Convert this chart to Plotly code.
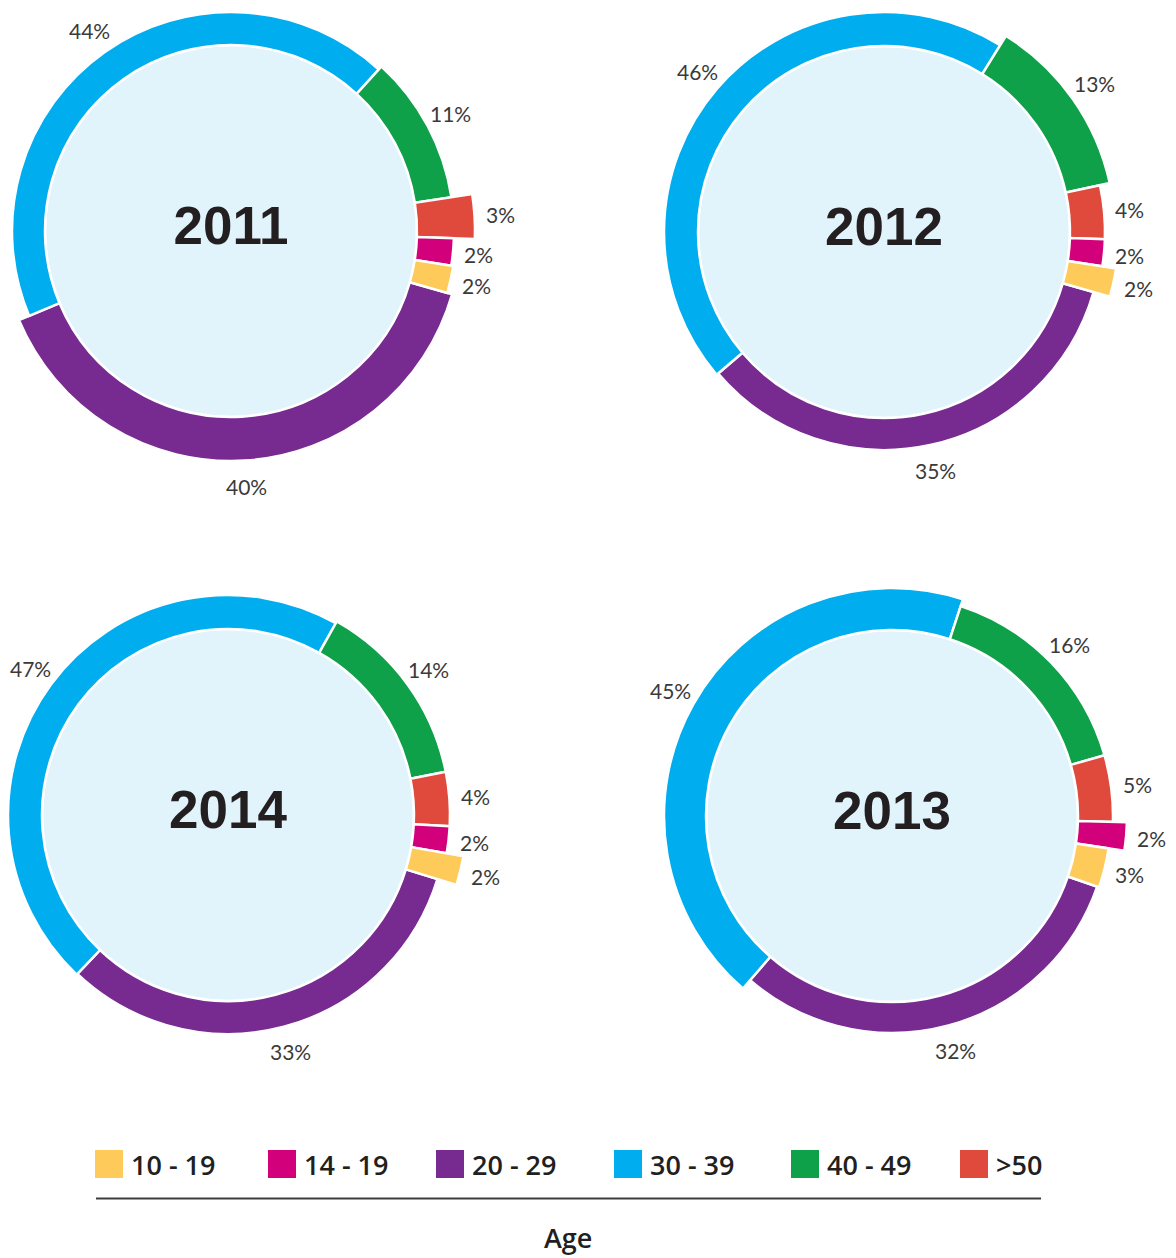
import math
import plotly.graph_objects as go

W, H = 1176, 1258

# ── data ──
AGE_GROUPS = ["10 - 19", "14 - 19", "20 - 29", "30 - 39", "40 - 49", ">50"]
COLORS = ["#fecb5b", "#d2007a", "#772a8f", "#00aeef", "#0fa04a", "#df4a3d"]

SHARE_2011 = [2, 2, 40, 44, 11, 3]
SHARE_2012 = [2, 2, 35, 46, 13, 4]
SHARE_2013 = [3, 2, 32, 45, 16, 5]
SHARE_2014 = [2, 2, 33, 47, 14, 4]

PANEL_YEARS = ["2011", "2012", "2014", "2013"]   # TL, TR, BL, BR
SHARES = {"2011": SHARE_2011, "2012": SHARE_2012, "2013": SHARE_2013, "2014": SHARE_2014}

# ── styling: ring geometry per panel (pixels) ──
R_IN = 186
# outer radius of each segment, legend order
OUTER = {
    "2011": [225, 223, 230, 219, 223, 244],
    "2012": [235, 221, 218, 220, 231, 221],
    "2013": [219, 235, 217, 228, 221, 221],
    "2014": [239, 222, 219, 220, 222, 222],
}
# centre x, centre y, main radius, rotation of the 20-29 start
PANEL_GEOM = {
    "2011": (231, 231, 231, -16),
    "2012": (884, 232, 232, -16),
    "2014": (228, 815, 228, -17),
    "2013": (892, 816, 232, -19),
}
SMALL_R = 262          # radius of the sector subplot holding the small slices
ORDER = [2, 3, 4, 5, 1, 0]   # clockwise from the 10-19 / 20-29 boundary
BIG, SMALL = [2, 3, 4], [5, 1, 0]
LABEL_PAD = 26

DISC = "#e1f3fb"
TEXT = "#3a3a3a"
DARK = "#231f20"


def _px_dom(x0, x1, y0, y1):
    return dict(x=[max(0, x0 / W), min(1, x1 / W)],
                y=[max(0, 1 - y1 / H), min(1, 1 - y0 / H)])


def _polar(dom, radius, rot, sector=None):
    d = dict(domain=dom, bgcolor="rgba(0,0,0,0)",
             radialaxis=dict(visible=False, range=[0, radius]),
             angularaxis=dict(visible=False, direction="clockwise", rotation=rot))
    if sector:
        d["sector"] = sector
    return d


fig = go.Figure()
layout = {}
annotations = []

for k, year in enumerate(PANEL_YEARS):
    share, outer = SHARES[year], OUTER[year]
    cx, cy, P, rot = PANEL_GEOM[year]
    total = sum(share)
    theta, width = [0.0] * 6, [0.0] * 6
    start = 0.0
    for i in ORDER:
        w = share[i] / total * 360
        theta[i], width[i] = start + w / 2, w
        start += w

    main = "polar" if k == 0 else f"polar{k + 1}"
    side = f"polar{k + 5}"
    layout[main] = _polar(_px_dom(cx - P, cx + P, cy - P, cy + P), P, rot)
    s = SMALL_R * 0.7071
    layout[side] = _polar(_px_dom(cx, cx + SMALL_R, cy - s, cy + s), SMALL_R, rot, [-45, 45])

    fig.add_trace(go.Barpolar(r=[R_IN], theta=[0], width=[360], subplot=main,
                              marker=dict(color=DISC, line=dict(color="white", width=2.5)),
                              hoverinfo="skip", showlegend=False))
    for idx, sub in ((BIG, main), (SMALL, side)):
        fig.add_trace(go.Barpolar(
            r=[outer[i] - R_IN for i in idx], base=[R_IN] * len(idx),
            theta=[theta[i] for i in idx], width=[width[i] for i in idx],
            marker=dict(color=[COLORS[i] for i in idx], line=dict(color="white", width=2.5)),
            subplot=sub, showlegend=False, hovertext=[AGE_GROUPS[i] for i in idx]))
    fig.add_trace(go.Scatterpolar(
        r=[0], theta=[0], mode="text", text=[f"<b>{year}</b>"], subplot=main,
        textfont=dict(family="Liberation Sans, Arial, sans-serif", size=53, color=DARK),
        hoverinfo="skip", showlegend=False))

    # percentage labels just outside each segment, at its mid angle
    for i in range(6):
        a = math.radians(rot - theta[i])
        rr = outer[i] + LABEL_PAD
        annotations.append(dict(
            x=(cx + rr * math.cos(a)) / W, y=1 - (cy - rr * math.sin(a)) / H,
            xref="paper", yref="paper", text=f"{share[i]}%", showarrow=False,
            xanchor="center", yanchor="middle",
            font=dict(family="Lato, sans-serif", size=21, color=TEXT)))

# ── legend ──
LEG_X = [95, 268, 436, 614, 791, 960]
shapes = []
for x, lab, col in zip(LEG_X, AGE_GROUPS, COLORS):
    shapes.append(dict(type="rect", xref="paper", yref="paper",
                       x0=x / W, x1=(x + 28) / W, y0=1 - 1178 / H, y1=1 - 1150 / H,
                       fillcolor=col, line=dict(width=0)))
    annotations.append(dict(x=(x + 34) / W, y=1 - 1164 / H, xref="paper", yref="paper",
                            text=lab, showarrow=False, xanchor="left", yanchor="middle",
                            font=dict(family="Open Sans, sans-serif", size=27, color=DARK,
                                      weight=600)))
shapes.append(dict(type="line", xref="paper", yref="paper",
                   x0=96 / W, x1=1041 / W, y0=1 - 1198.5 / H, y1=1 - 1198.5 / H,
                   line=dict(color="#3d3d3d", width=2)))
annotations.append(dict(x=568 / W, y=1 - 1237 / H, xref="paper", yref="paper",
                        text="Age", showarrow=False, xanchor="center", yanchor="middle",
                        font=dict(family="Open Sans, sans-serif", size=27, color=DARK,
                                  weight=600)))

fig.update_layout(
    width=W, height=H, margin=dict(l=0, r=0, t=0, b=0),
    paper_bgcolor="white", plot_bgcolor="white",
    shapes=shapes, annotations=annotations, showlegend=False,
    **layout,
)

fig.write_html("out.html", post_script="document.body.style.margin='0';",
               config={"displayModeBar": False})
